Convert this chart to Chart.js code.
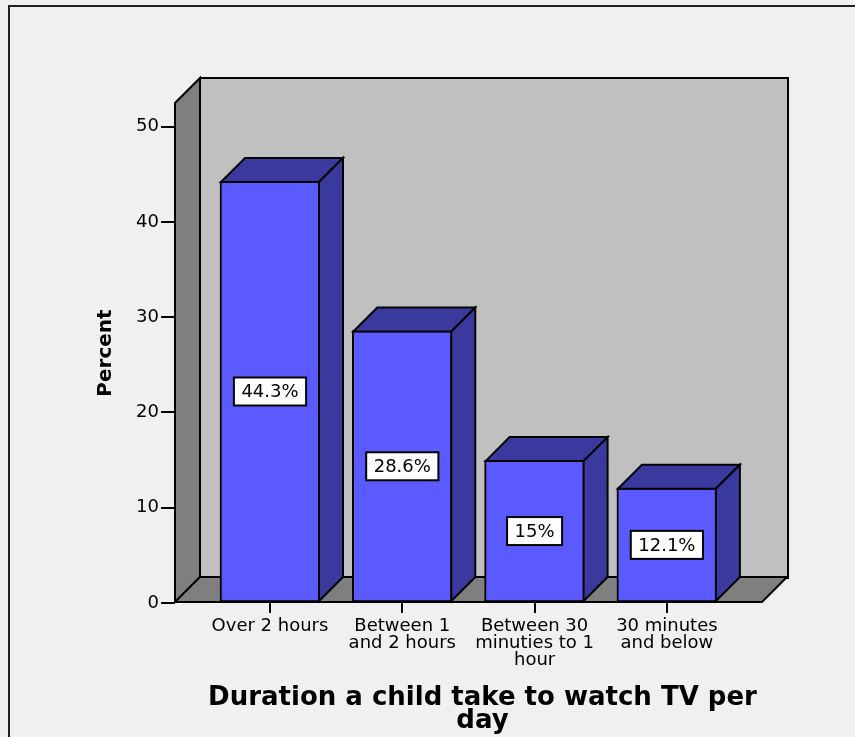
<!DOCTYPE html>
<html lang="en">
  <head>
    <meta charset="UTF-8" />
    <title>Duration a child take to watch TV per day</title>
    <script src="https://cdn.jsdelivr.net/npm/chart.js"></script>
    <style>
      body {
        margin: 0;
        background: #f0f0f0;
      }
      canvas {
        display: block;
      }
    </style>
  </head>
  <body>
    <canvas id="tvChart" width="855" height="737"></canvas>

    <script>
      // data
      const categories = [
        ["Over 2 hours"],
        ["Between 1", "and 2 hours"],
        ["Between 30", "minuties to 1", "hour"],
        ["30 minutes", "and below"],
      ];
      const percents = [44.3, 28.6, 15, 12.1];
      const yTicks = [0, 10, 20, 30, 40, 50];
      const xTitle = ["Duration a child take to watch TV per", "day"];
      const yTitle = "Percent";

      const FONT = "'DejaVu Sans', sans-serif";
      const WALL_DEPTH = 25;
      const BAR_DEPTH = 24;

      Chart.defaults.font.family = FONT;
      Chart.defaults.color = "#000";

      // fake 3D box like SPSS: back wall, left wall, floor, bar tops/sides
      const spss3d = {
        id: "spss3d",
        beforeDraw(chart) {
          const ctx = chart.ctx;
          ctx.save();
          ctx.fillStyle = "#f0f0f0";
          ctx.fillRect(0, 0, chart.width, chart.height);
          ctx.strokeStyle = "#222";
          ctx.lineWidth = 2;
          ctx.beginPath();
          ctx.moveTo(9, chart.height);
          ctx.lineTo(9, 6);
          ctx.lineTo(chart.width, 6);
          ctx.stroke();
          ctx.restore();
        },
        beforeDatasetsDraw(chart) {
          const ctx = chart.ctx;
          const { left, right, top, bottom } = chart.chartArea;
          const d = WALL_DEPTH;
          const L = left + 1;
          const B = bottom - 1;
          ctx.save();
          ctx.lineWidth = 2;
          ctx.strokeStyle = "#000";
          ctx.lineJoin = "miter";

          // back wall
          ctx.fillStyle = "#c0c0c0";
          ctx.fillRect(L + d, top - d, right - left, bottom - top);
          ctx.strokeRect(L + d, top - d, right - left, bottom - top);

          // left wall
          ctx.fillStyle = "#7f7f7f";
          ctx.beginPath();
          ctx.moveTo(L, B);
          ctx.lineTo(L, top);
          ctx.lineTo(L + d, top - d);
          ctx.lineTo(L + d, B - d);
          ctx.closePath();
          ctx.fill();
          ctx.stroke();

          // floor
          ctx.beginPath();
          ctx.moveTo(L, B);
          ctx.lineTo(L + d, B - d);
          ctx.lineTo(right + d, B - d);
          ctx.lineTo(right, B);
          ctx.closePath();
          ctx.fill();
          ctx.stroke();
          ctx.restore();
        },
        afterDatasetsDraw(chart) {
          const ctx = chart.ctx;
          const d = BAR_DEPTH;
          const bars = chart.getDatasetMeta(0).data;
          ctx.save();
          ctx.lineWidth = 2;
          ctx.strokeStyle = "#000";
          bars.forEach((bar, i) => {
            const p = bar.getProps(["x", "y", "base", "width"], true);
            const l = p.x - p.width / 2 + 1;
            const r = p.x + p.width / 2 - 1;
            const t = p.y + 1;
            const b = p.base - 1;
            ctx.fillStyle = "#3a3a9e";
            // top
            ctx.beginPath();
            ctx.moveTo(l, t);
            ctx.lineTo(l + d, t - d);
            ctx.lineTo(r + d, t - d);
            ctx.lineTo(r, t);
            ctx.closePath();
            ctx.fill();
            ctx.stroke();
            // side
            ctx.beginPath();
            ctx.moveTo(r, t);
            ctx.lineTo(r + d, t - d);
            ctx.lineTo(r + d, b - d);
            ctx.lineTo(r, b);
            ctx.closePath();
            ctx.fill();
            ctx.stroke();

            // value label box in the middle of the front face
            const text = percents[i] + "%";
            ctx.font = "18px " + FONT;
            const w = ctx.measureText(text).width + 15;
            const h = 28;
            const cx = p.x;
            const cy = (p.y + p.base) / 2;
            ctx.fillStyle = "#fff";
            ctx.fillRect(cx - w / 2, cy - h / 2, w, h);
            ctx.strokeRect(cx - w / 2, cy - h / 2, w, h);
            ctx.fillStyle = "#000";
            ctx.textAlign = "center";
            ctx.textBaseline = "middle";
            ctx.fillText(text, cx, cy + 1);
          });
          ctx.restore();
        },
        afterDraw(chart) {
          // axis title centred on the whole 3D box, not just the chart area
          const ctx = chart.ctx;
          const { left, right } = chart.chartArea;
          const cx = (left + right + WALL_DEPTH) / 2 + 2;
          ctx.save();
          ctx.font = "bold 26px " + FONT;
          ctx.fillStyle = "#000";
          ctx.textAlign = "center";
          ctx.textBaseline = "alphabetic";
          ctx.fillText(xTitle[0], cx, 705);
          ctx.fillText(xTitle[1], cx, 728);
          ctx.restore();
        },
      };

      new Chart(document.getElementById("tvChart"), {
        type: "bar",
        data: {
          datasets: [
            {
              data: percents.map((v, i) => ({ x: i, y: v })),
              backgroundColor: "#5a5aff",
              borderColor: "#000",
              borderWidth: 2,
              borderSkipped: false,
              barThickness: 100,
            },
          ],
        },
        options: {
          responsive: false,
          animation: false,
          devicePixelRatio: 1,
          layout: {
            padding: { top: 103, right: 93, bottom: 0, left: 0 },
          },
          plugins: {
            legend: { display: false },
            tooltip: { enabled: false },
          },
          scales: {
            x: {
              type: "linear",
              min: -0.7256,
              max: 3.719,
              offset: false,
              afterFit(scale) {
                scale.height = 134;
              },
              afterBuildTicks(scale) {
                scale.ticks = categories.map((c, i) => ({ value: i }));
              },
              grid: {
                display: true,
                offset: false,
                drawOnChartArea: false,
                drawTicks: true,
                tickLength: 10,
                color: "#000",
                lineWidth: 2,
              },
              border: { display: false },
              ticks: {
                padding: 5,
                maxRotation: 0,
                autoSkip: false,
                font: { size: 18, lineHeight: 0.93 },
                callback: (value, index) => categories[index],
              },
            },
            y: {
              min: 0,
              max: 52.49,
              afterFit(scale) {
                scale.width = 174;
              },
              afterBuildTicks(scale) {
                scale.ticks = yTicks.map((v) => ({ value: v }));
              },
              grid: {
                display: true,
                drawOnChartArea: false,
                drawTicks: true,
                tickLength: 13,
                color: "#000",
                lineWidth: 2,
              },
              border: { display: false },
              ticks: {
                padding: 2,
                font: { size: 18 },
              },
              title: {
                display: true,
                text: yTitle,
                font: { size: 20, weight: "bold" },
                padding: { top: 94, bottom: 0 },
              },
            },
          },
        },
        plugins: [spss3d],
      });
    </script>
  </body>
</html>
